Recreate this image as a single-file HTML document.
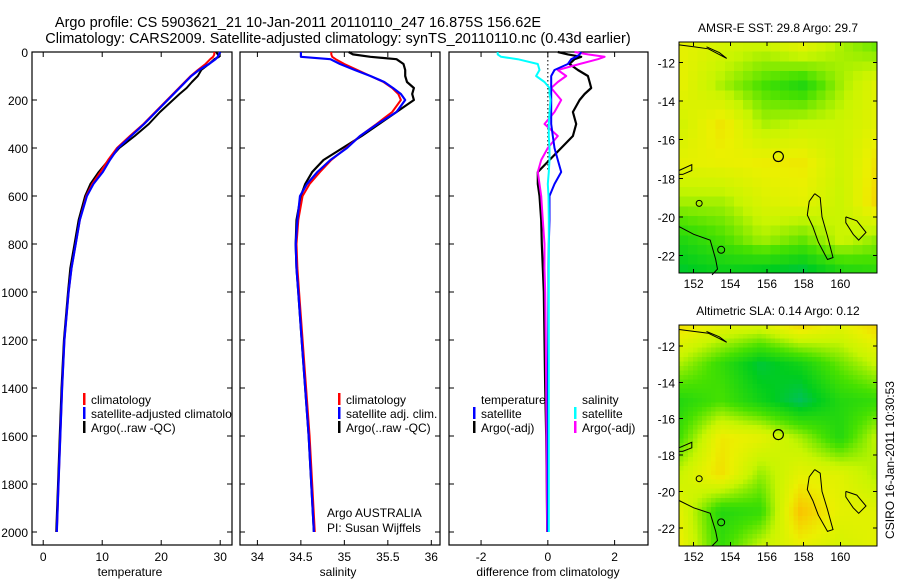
<!DOCTYPE html>
<html><head><meta charset="utf-8"><style>
html,body{margin:0;padding:0;background:#fff;}
svg{display:block;font-family:"Liberation Sans",sans-serif;}
</style></head><body>
<svg id="fig" width="900" height="580" viewBox="0 0 900 580" xmlns="http://www.w3.org/2000/svg">
<defs><clipPath id="clipT"><rect x="32" y="52" width="200" height="493"/></clipPath></defs>
<text x="298" y="27" font-size="14.5" text-anchor="middle">Argo profile: CS 5903621_21 10-Jan-2011 20110110_247 16.875S 156.62E</text>
<text x="338" y="43" font-size="14.5" text-anchor="middle">Climatology: CARS2009. Satellite-adjusted climatology: synTS_20110110.nc (0.43d earlier)</text>
<g id="layer"></g>
</svg>
<script>
// ---------- data ----------
const depths = [0,10,20,30,50,75,100,125,150,175,200,250,300,350,400,450,500,550,600,700,800,900,1000,1200,1400,1600,1800,2000];
const tempClim = [29,29,28.8,28.3,27.5,26.2,25,24,23,22,21,19,17,14.7,12.5,11,9.7,8.3,7.3,6.2,5.5,4.8,4.3,3.6,3.2,2.9,2.6,2.3];
const tempSat  = [30,29.8,29.6,29.2,28.1,26.4,25.1,24.1,23.1,22.1,21.1,19.1,17.1,14.9,12.7,11.3,10.1,8.5,7.4,6.2,5.5,4.8,4.3,3.6,3.2,2.9,2.6,2.3];
const tempArgo = [29.3,29.6,29.8,29,28.1,26.8,26.2,25.2,24.3,23.1,22,19.8,17.9,15.5,12.9,11.1,9.4,8,7.1,6,5.3,4.6,4.2,3.5,3.1,2.8,2.5,2.2];
const salClim = [34.85,34.85,34.86,34.9,35.0,35.15,35.3,35.45,35.55,35.62,35.65,35.55,35.37,35.18,35.02,34.85,34.72,34.6,34.52,34.47,34.45,34.46,34.48,34.52,34.56,34.6,34.63,34.66];
const salSat  = [34.5,34.5,34.5,34.84,34.95,35.12,35.3,35.46,35.56,35.65,35.7,35.6,35.38,35.18,35.03,34.84,34.69,34.57,34.49,34.46,34.44,34.45,34.47,34.51,34.55,34.59,34.62,34.65];
const salArgo = [35.05,35.1,35.3,35.6,35.68,35.7,35.7,35.72,35.8,35.78,35.8,35.6,35.4,35.2,34.98,34.76,34.63,34.55,34.5,34.45,34.44,34.45,34.47,34.51,34.55,34.59,34.62,34.65];
const dTempSat  = [1.0,0.95,0.85,0.7,0.6,0.2,0.1,0.1,0.1,0.1,0.1,0.1,0.1,0.15,0.2,0.3,0.4,0.2,0.05,0.05,0.03,0.02,0.02,0.01,0.0,0.0,0.0,0.0];
const dTempArgo = [0.3,0.6,1.0,0.8,0.65,0.9,1.2,1.25,1.3,1.1,0.95,0.75,0.85,0.75,0.4,0.05,-0.3,-0.3,-0.25,-0.2,-0.18,-0.15,-0.12,-0.1,-0.08,-0.05,-0.03,-0.02];
const dSalSat  = [-1.5,-1.5,-1.4,-0.9,-0.3,-0.25,-0.35,-0.1,0.05,0.05,0.08,0.05,0.03,0.03,0.05,0.05,0.03,0.0,0.02,0.03,0.03,0.03,0.03,0.03,0.03,0.03,0.03,0.03];
const dSalArgo = [0.8,1.2,1.7,1.5,0.95,0.3,0.55,0.3,0.1,0.25,0.4,0.2,-0.1,0.3,0.0,-0.2,-0.3,-0.25,-0.2,-0.15,-0.1,-0.1,-0.08,-0.06,-0.05,-0.04,-0.03,-0.02];
const depthTicks = [0,200,400,600,800,1000,1200,1400,1600,1800,2000];
const tempTicks = [0,10,20,30];
const salTicks = [34,34.5,35,35.5,36];
const salTickLabels = ["34","34.5","35","35.5","36"];
const diffTicks = [-2,0,2];
const lonTicks = [152,154,156,158,160];
const latTicks = [-12,-14,-16,-18,-20,-22];
const argoLon = 156.62, argoLat = -16.875;
const sstGrid = [
 [0.72,0.65,0.6,0.7,0.55,0.45],
 [0.72,0.55,0.4,0.3,0.55,0.72],
 [0.65,0.8,0.55,0.6,0.62,0.72],
 [0.72,0.74,0.76,0.78,0.62,0.82],
 [0.55,0.55,0.68,0.72,0.6,0.88],
 [0.3,0.4,0.55,0.45,0.62,0.5],
 [0.15,0.2,0.12,0.08,0.22,0.3]];
const slaGrid = [
 [0.8,0.7,0.65,0.82,0.7,0.85],
 [0.55,0.35,0.15,0.25,0.45,0.62],
 [0.3,0.4,0.25,0.1,0.3,0.35],
 [0.4,0.78,0.72,0.55,0.3,0.62],
 [0.62,0.82,0.52,0.72,0.7,0.55],
 [0.7,0.3,0.35,0.92,0.72,0.7],
 [0.75,0.35,0.62,0.72,0.65,0.72]];

// ---------- helpers ----------
const NS="http://www.w3.org/2000/svg";
const layer=document.getElementById('layer');
function mk(tag,attrs,parent){const e=document.createElementNS(NS,tag);for(const k in attrs)e.setAttribute(k,attrs[k]);(parent||layer).appendChild(e);return e;}
function txt(x,y,s,size,anchor,parent){const t=mk('text',{x:x,y:y,'font-size':size,'text-anchor':anchor||'start'},parent);t.textContent=s;return t;}

const PT=52, PB=545;
const yD = d => PT + d*(532-52)/2000;
function panel(name,x0,x1,vmin,vmax){
  const sx = v => x0 + (v-vmin)/(vmax-vmin)*(x1-x0);
  const g=mk('g',{});
  
  
  const r=mk('rect',{x:x0,y:PT,width:x1-x0,height:PB-PT,fill:'#fff',stroke:'#000','stroke-width':1.2},g);
  
  
  return {g,sx};
}
function yticks(p,x0,x1,labels){
  depthTicks.forEach(d=>{
    const y=yD(d);
    mk('line',{x1:x0,x2:x0+5,y1:y,y2:y,stroke:'#000'},p.g);
    mk('line',{x1:x1,x2:x1-5,y1:y,y2:y,stroke:'#000'},p.g);
    if(labels){const t=txt(x0-4,y+5,String(d),12,'end',p.g);
      
      }
  });
}
function xticks(p,ticks,labs){
  ticks.forEach((v,i)=>{
    const x=p.sx(v);
    mk('line',{x1:x,x2:x,y1:PB,y2:PB-5,stroke:'#000'},p.g);
    mk('line',{x1:x,x2:x,y1:PT,y2:PT+5,stroke:'#000'},p.g);
    const t=txt(x,561,labs?labs[i]:String(v),12,'middle',p.g);
    
    
  });
}
function line(p,vals,color,w,name){
  const pts=vals.map((v,i)=>p.sx(v).toFixed(1)+','+yD(depths[i]).toFixed(1)).join(' ');
  const l=mk('polyline',{points:pts,fill:'none',stroke:color,'stroke-width':w,'stroke-linejoin':'round'},p.g);
  
  
}
function legend(p,x,y,color,label,clip){
  mk('rect',{x:x,y:y-11,width:2.5,height:12,fill:color},p.g);
  const t=txt(x+8,y,label,12,'start',p.g);
  if(clip) t.setAttribute('clip-path','url(#clipT)');
  
  
}
function xtitle(x,s){const t=txt(x,576,s,12,'middle');
  
  }

// ---------- temperature ----------
const pT=panel('temperature-panel',32,232,-1.9,32);
yticks(pT,32,232,true); xticks(pT,tempTicks);
line(pT,tempArgo,'#000',2,'temp-argo-line');
line(pT,tempClim,'#f00',2,'temp-climatology-line');
line(pT,tempSat,'#00f',2.2,'temp-satellite-line');
legend(pT,83,404,'#f00','climatology',true);
legend(pT,83,418,'#00f','satellite-adjusted climatology',true);
legend(pT,83,432,'#000','Argo(..raw -QC)',true);
xtitle(130,'temperature');

// ---------- salinity ----------
const pS=panel('salinity-panel',240,440,33.8,36.1);
yticks(pS,240,440,false); xticks(pS,salTicks,salTickLabels);
line(pS,salArgo,'#000',2.2,'sal-argo-line');
line(pS,salClim,'#f00',2,'sal-climatology-line');
line(pS,salSat,'#00f',2.2,'sal-satellite-line');
legend(pS,338,404,'#f00','climatology');
legend(pS,338,418,'#00f','satellite adj. clim.');
legend(pS,338,432,'#000','Argo(..raw -QC)');
let t1=txt(327,517,'Argo AUSTRALIA',12,'start',pS.g);


let t2=txt(327,532,'PI: Susan Wijffels',12,'start',pS.g);


xtitle(338,'salinity');

// ---------- difference ----------
const pD=panel('difference-panel',449,648,-2.96,3);
yticks(pD,449,648,false); xticks(pD,diffTicks);
mk('line',{x1:pD.sx(0),x2:pD.sx(0),y1:PT,y2:yD(500),stroke:'#000','stroke-dasharray':'1.5,2.5'},pD.g);
line(pD,dTempArgo,'#000',2.2,'diff-temp-argo-line');
line(pD,dSalArgo,'#f0f',2,'diff-sal-argo-line');
line(pD,dTempSat,'#00f',2,'diff-temp-satellite-line');
line(pD,dSalSat,'#0ff',2,'diff-sal-satellite-line');
let h1=txt(481,404,'temperature',12,'start',pD.g);


let h2=txt(582,404,'salinity',12,'start',pD.g);


legend(pD,473,418,'#00f','satellite');
legend(pD,473,432,'#000','Argo(-adj)');
legend(pD,574,418,'#0ff','satellite');
legend(pD,574,432,'#f0f','Argo(-adj)');
xtitle(548,'difference from climatology');

// ---------- maps ----------
function cmap(v){
  const stops=[[0,[0,180,150]],[0.2,[0,205,30]],[0.4,[70,225,0]],[0.6,[200,245,0]],[0.75,[235,240,0]],[0.9,[248,200,0]],[1,[250,165,0]]];
  v=Math.max(0,Math.min(1,v));
  for(let i=1;i<stops.length;i++){if(v<=stops[i][0]){const a=stops[i-1],b=stops[i],f=(v-a[0])/(b[0]-a[0]);
    return 'rgb('+a[1].map((c,k)=>Math.round(c+(b[1][k]-c)*f)).join(',')+')';}}
  return 'rgb(250,165,0)';
}
function drawMap(name,title,grid,x0,x1,y0,y1,latTop,latBot,step){
  const lonL=151.2,lonR=162;
  const sx=lo=>x0+(lo-lonL)/(lonR-lonL)*(x1-x0);
  const sy=la=>y0+(latTop-la)/(latTop-latBot)*(y1-y0);
  const g=mk('g',{'shape-rendering':'crispEdges'});
  
  
  const R=grid.length,C=grid[0].length;
  for(let la=latTop;la>latBot;la-=step){
    for(let lo=lonL;lo<lonR;lo+=step){
      const fr=(latTop-la)/(latTop-latBot)*(R-1), fc=(lo-lonL)/(lonR-lonL)*(C-1);
      const r0=Math.min(R-2,Math.floor(fr)),c0=Math.min(C-2,Math.floor(fc));
      const a=fr-r0,b=fc-c0;
      const v=grid[r0][c0]*(1-a)*(1-b)+grid[r0+1][c0]*a*(1-b)+grid[r0][c0+1]*(1-a)*b+grid[r0+1][c0+1]*a*b;
      const xa=sx(lo),xb=sx(Math.min(lonR,lo+step)),ya=sy(la),yb=sy(Math.max(latBot,la-step));
      mk('rect',{x:xa.toFixed(1),y:ya.toFixed(1),width:(xb-xa+0.6).toFixed(1),height:(yb-ya+0.6).toFixed(1),fill:cmap(v)},g);
    }
  }
  const cg=mk('g',{fill:'none',stroke:'#000','stroke-width':1,'shape-rendering':'auto'},g);
  
  
  const coast=[
    [[158.6,-18.8],[158.9,-19],[159,-20],[159.3,-21],[159.6,-22.1],[159.3,-22.2],[158.8,-21.3],[158.5,-20.5],[158.2,-19.9],[158.3,-19.2],[158.6,-18.8]],
    [[151.2,-20.5],[152,-20.9],[152.9,-21.2],[153.2,-22.2],[153.3,-22.7],[153,-23]],
    [[160.3,-20],[160.9,-20.2],[161.4,-20.8],[161,-21.2],[160.7,-20.9],[160.3,-20.3],[160.3,-20]],
    [[151.2,-11.1],[152,-11.2],[152.8,-11.3],[153.4,-11.6],[153.8,-11.8],[153.4,-11.5],[152.7,-11.2]],
    [[151.2,-17.6],[151.9,-17.3],[151.9,-17.6],[151.4,-17.8],[151.2,-17.8]]];
  coast.forEach(c=>mk('polyline',{points:c.map(p=>sx(p[0]).toFixed(1)+','+sy(p[1]).toFixed(1)).join(' ')},cg));
  mk('circle',{cx:sx(152.3),cy:sy(-19.3),r:3},cg);
  mk('circle',{cx:sx(153.5),cy:sy(-21.7),r:3.5},cg);
  const argo=mk('circle',{cx:sx(argoLon),cy:sy(argoLat),r:5,fill:'none',stroke:'#000','stroke-width':1.2,'shape-rendering':'auto'},g);
  
  
  const fr=mk('rect',{x:x0,y:y0,width:x1-x0,height:y1-y0,fill:'none',stroke:'#000','stroke-width':1.2},g);
  
  
  lonTicks.forEach(lo=>{const x=sx(lo);
    mk('line',{x1:x,x2:x,y1:y1,y2:y1-4,stroke:'#000'},g);mk('line',{x1:x,x2:x,y1:y0,y2:y0+4,stroke:'#000'},g);
    const t=txt(x,y1+15,String(lo),12,'middle',g);
    
    });
  latTicks.forEach(la=>{const y=sy(la);
    mk('line',{x1:x0,x2:x0+4,y1:y,y2:y,stroke:'#000'},g);mk('line',{x1:x1,x2:x1-4,y1:y,y2:y,stroke:'#000'},g);
    const t=txt(x0-4,y+5,String(la),12,'end',g);
    
    });
  const tt=txt((x0+x1)/2,y0-10,title,12,'middle',g);
  
  
}
drawMap('sst-map','AMSR-E SST: 29.8 Argo: 29.7',sstGrid,679,877,42,273,-10.95,-22.9,0.5);
drawMap('sla-map','Altimetric SLA: 0.14 Argo: 0.12',slaGrid,679,877,325,546,-10.85,-23.0,0.25);
const st=txt(0,0,'CSIRO 16-Jan-2011 10:30:53',12,'middle');
st.setAttribute('transform','translate(894,460) rotate(-90)');


</script>
</body></html>
